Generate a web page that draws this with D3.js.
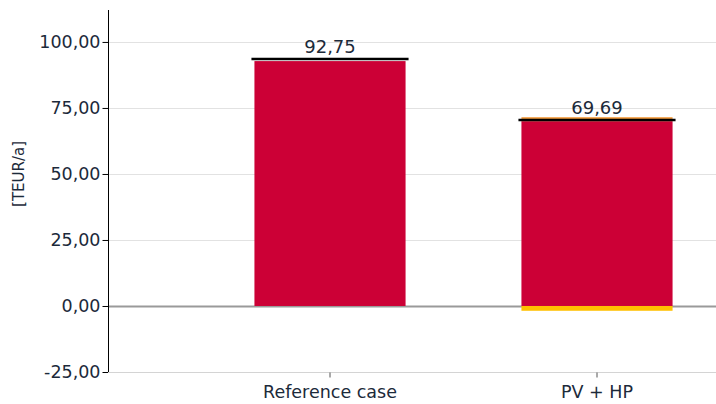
<!DOCTYPE html>
<html>
<head>
<meta charset="utf-8">
<script src="https://cdn.jsdelivr.net/npm/d3@7"></script>
<style>
  body { margin: 0; background: #fff; }
  text { font-family: "DejaVu Sans", Verdana, sans-serif; fill: #1c2a3a; }
</style>
</head>
<body>
<svg id="chart" width="716" height="404"></svg>
<script>
// Data
const categories = ['Reference case', 'PV + HP'];
const redValues = [92.75, 70.0];
const orangeValues = [0, 1.5];
const yellowValues = [0, -1.81];
const totals = [92.75, 69.69];
const yTicks = [-25, 0, 25, 50, 75, 100];

const plotLeft = 108, plotRight = 716, plotTop = 10, plotBottom = 372;

const svg = d3.select('#chart');

const y = d3.scaleLinear().domain([-25, 112.1]).range([plotBottom, plotTop]);
const x = d3.scaleBand()
    .domain(categories)
    .range([196.5, 730.5])
    .paddingInner(0.434)
    .paddingOuter(0.217);

// german style numbers, plain hyphen for negatives
const fmt = v => d3.format('.2f')(v).replace('.', ',').replace('\u2212', '-');

// gridlines
svg.append('g')
    .selectAll('line')
    .data(yTicks)
    .enter()
    .append('line')
    .attr('x1', plotLeft)
    .attr('x2', plotRight)
    .attr('y1', d => Math.round(y(d)) + 0.5)
    .attr('y2', d => Math.round(y(d)) + 0.5)
    .attr('stroke', d => d === 0 ? '#9a9a9a' : (d === -25 ? '#d4d4d4' : '#e2e2e2'))
    .attr('stroke-width', d => d === 0 ? 2 : 1);

// bars
const rows = categories.map((c, i) => ({ c, red: redValues[i], orange: orangeValues[i], yellow: yellowValues[i], total: totals[i] }));

const bars = svg.append('g');
bars.selectAll('.red')
    .data(rows)
    .enter()
    .append('rect')
    .attr('x', d => x(d.c))
    .attr('width', x.bandwidth())
    .attr('y', d => y(d.red))
    .attr('height', d => y(0) - y(d.red))
    .attr('fill', '#cc0036');

bars.selectAll('.orange')
    .data(rows.filter(d => d.orange > 0))
    .enter()
    .append('rect')
    .attr('x', d => x(d.c))
    .attr('width', x.bandwidth())
    .attr('y', d => y(d.red + d.orange))
    .attr('height', d => y(d.red) - y(d.red + d.orange))
    .attr('fill', '#f39a3a');

bars.selectAll('.yellow')
    .data(rows.filter(d => d.yellow < 0))
    .enter()
    .append('rect')
    .attr('x', d => x(d.c))
    .attr('width', x.bandwidth())
    .attr('y', y(0))
    .attr('height', d => y(d.yellow) - y(0))
    .attr('fill', '#ffc000');

// total markers
bars.selectAll('.total')
    .data(rows)
    .enter()
    .append('line')
    .attr('x1', d => x(d.c) - 3)
    .attr('x2', d => x(d.c) + x.bandwidth() + 3)
    .attr('y1', d => y(d.total) - 2)
    .attr('y2', d => y(d.total) - 2)
    .attr('stroke', '#000')
    .attr('stroke-width', 2.5);

bars.selectAll('.label')
    .data(rows)
    .enter()
    .append('text')
    .attr('x', d => x(d.c) + x.bandwidth() / 2)
    .attr('y', d => y(d.total) - 8)
    .attr('text-anchor', 'middle')
    .attr('font-size', 18)
    .text(d => fmt(d.total));

// y axis
const yAxis = svg.append('g')
    .attr('transform', `translate(${plotLeft + 0.5},0)`)
    .call(d3.axisLeft(y).tickValues(yTicks).tickFormat(fmt).tickSize(6).tickSizeOuter(0));
yAxis.select('.domain').attr('stroke', '#000').attr('d', `M0,${plotTop}V${plotBottom}`);
yAxis.selectAll('.tick line').attr('stroke', '#000');
yAxis.selectAll('.tick text')
    .attr('font-size', 17.5)
    .attr('font-family', '"DejaVu Sans", Verdana, sans-serif')
    .attr('fill', '#1c2a3a')
    .attr('x', -8);

// x axis
const xAxis = svg.append('g')
    .attr('transform', `translate(0,${Math.round(y(-25)) + 0.5})`)
    .call(d3.axisBottom(x).tickSize(5).tickSizeOuter(0));
xAxis.select('.domain').attr('stroke', '#d4d4d4').attr('d', `M${plotLeft},0H${plotRight}`);
xAxis.selectAll('.tick line').attr('stroke', '#555');
xAxis.selectAll('.tick text')
    .attr('font-size', 17.5)
    .attr('font-family', '"DejaVu Sans", Verdana, sans-serif')
    .attr('fill', '#1c2a3a')
    .attr('y', 13);

// y label
svg.append('text')
    .attr('transform', `translate(24,${y(50)}) rotate(-90)`)
    .attr('text-anchor', 'middle')
    .attr('font-size', 15)
    .text('[TEUR/a]');
</script>
</body>
</html>
